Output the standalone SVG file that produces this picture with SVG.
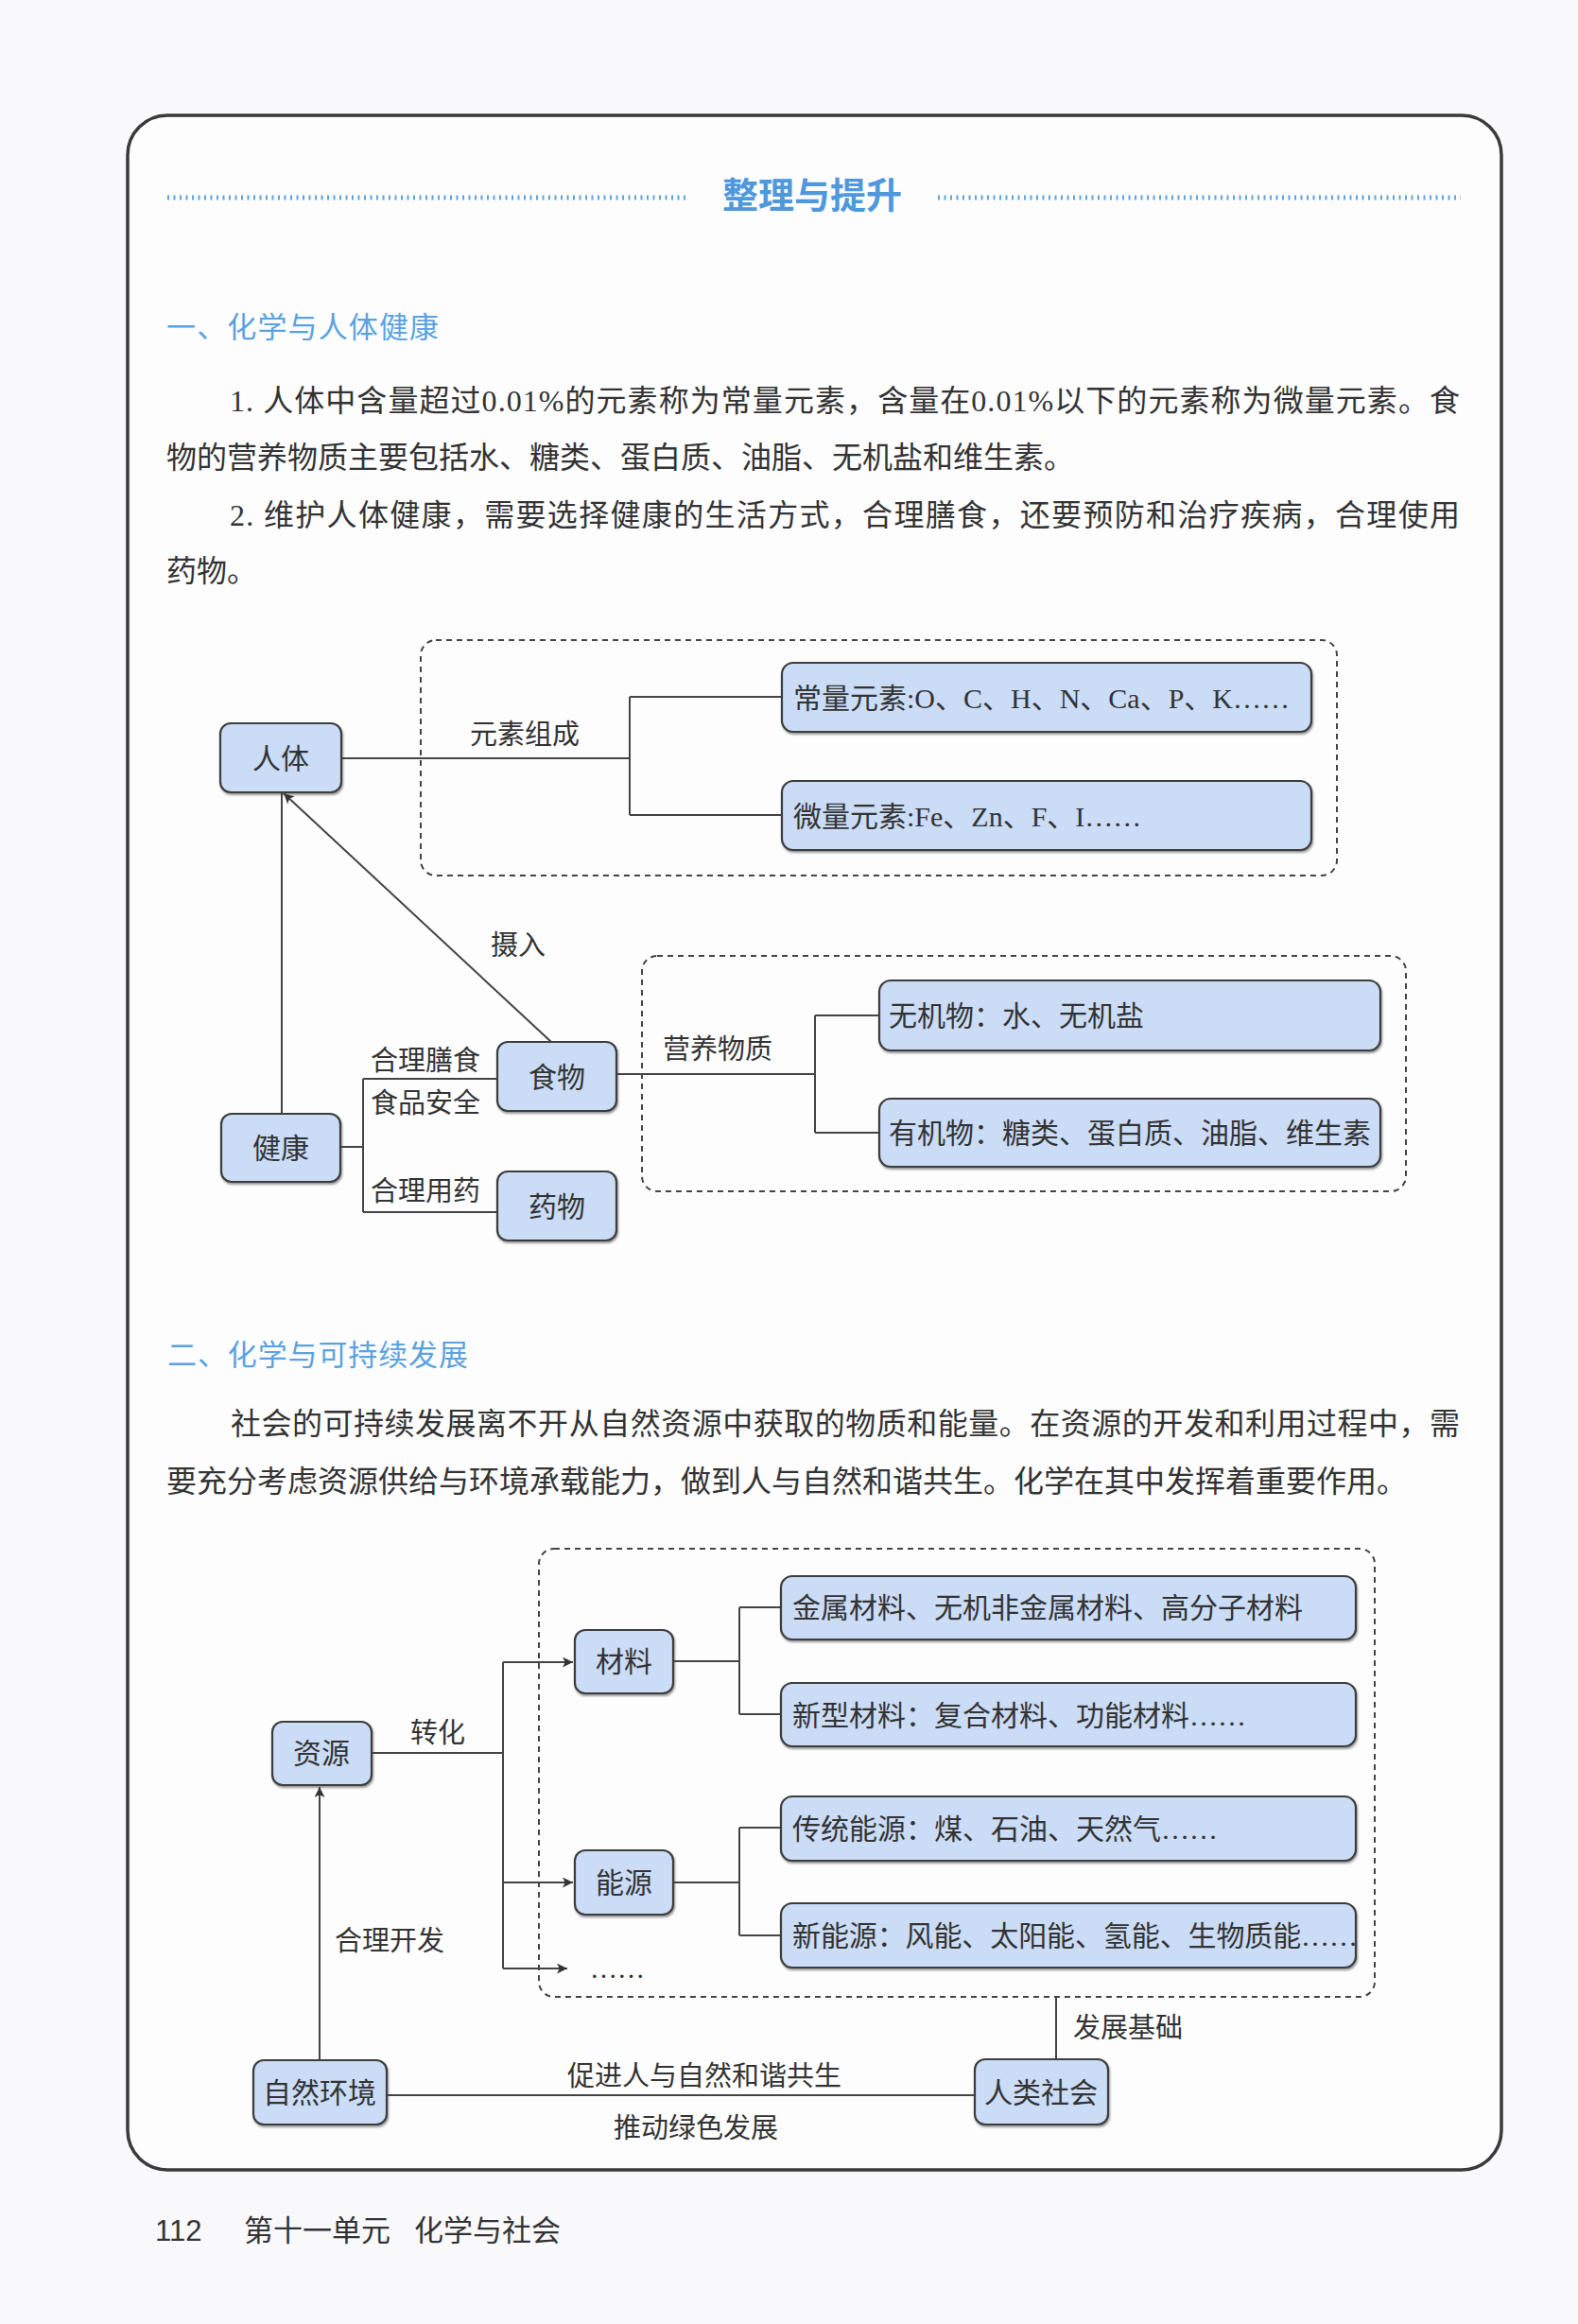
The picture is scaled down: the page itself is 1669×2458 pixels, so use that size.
<svg xmlns="http://www.w3.org/2000/svg" width="1669" height="2458" viewBox="0 0 1669 2458">
<style>
.page{fill:#f9f8fb}
.frame{fill:#fdfdfe;stroke:#3a3a3a;stroke-width:3.5}
.title{font-family:"Noto Sans CJK SC","Noto Sans",sans-serif;font-size:38px;font-weight:700;fill:#4f98dc}
.dots{stroke:#5fa3e0;stroke-width:5;stroke-dasharray:2 4.5;fill:none}
.head{font-family:"Noto Sans CJK SC","Noto Sans",sans-serif;font-size:31px;fill:#5aa2e2}
.para{font-family:"Liberation Serif","Noto Sans CJK SC",serif;font-size:32px;fill:#333}
.lbl{font-family:"Liberation Serif","Noto Sans CJK SC",serif;font-size:29px;fill:#333}
.node rect{fill:#cadcf6;stroke:#3d3d3d;stroke-width:2.2;filter:url(#sh)}
.node text{font-family:"Liberation Serif","Noto Sans CJK SC",serif;font-size:30px;fill:#333}
.dash{fill:none;stroke:#444;stroke-width:2;stroke-dasharray:6 5}
.conn path{fill:none;stroke:#444;stroke-width:2}
.foot{font-family:"Liberation Sans","Noto Sans CJK SC",sans-serif;font-size:31px;fill:#333}
</style>
<defs>
<filter id="sh" x="-5%" y="-10%" width="110%" height="125%">
<feDropShadow dx="1" dy="2" stdDeviation="0.8" flood-color="#444" flood-opacity="0.55"/>
</filter>
<marker id="arr" viewBox="0 0 10 10" refX="10" refY="5" markerWidth="14" markerHeight="11" markerUnits="userSpaceOnUse" orient="auto">
<path d="M0,0 L10,5 L0,10 L2.5,5 Z" fill="#333"/>
</marker>
</defs>

<rect class="page" x="0" y="0" width="1669" height="2458"/>
<rect class="frame" x="135" y="122" width="1453" height="2173" rx="42"/>

<!-- title -->
<line class="dots" x1="177" y1="209" x2="726" y2="209"/>
<line class="dots" x1="992" y1="209" x2="1545" y2="209"/>
<text class="title" x="859" y="220" text-anchor="middle">整理与提升</text>

<!-- section 1 -->
<text class="head" x="176" y="357" textLength="288" lengthAdjust="spacing">一、化学与人体健康</text>
<text class="para" x="243" y="435" textLength="1301" lengthAdjust="spacing">1. 人体中含量超过0.01%的元素称为常量元素，含量在0.01%以下的元素称为微量元素。食</text>
<text class="para" x="176" y="495">物的营养物质主要包括水、糖类、蛋白质、油脂、无机盐和维生素。</text>
<text class="para" x="243" y="556" textLength="1301" lengthAdjust="spacing">2. 维护人体健康，需要选择健康的生活方式，合理膳食，还要预防和治疗疾病，合理使用</text>
<text class="para" x="176" y="615">药物。</text>

<rect class="dash" x="445" y="677" width="969" height="249" rx="16"/>
<rect class="dash" x="679" y="1011" width="808" height="249" rx="16"/>

<g class="conn" id="connectors">
<path d="M361 802 H666 M666 737 V862 M666 737 H827 M666 862 H827"/>
<path d="M298 1178 V838"/>
<path d="M583 1102 L300 839" marker-end="url(#arr)"/>
<path d="M360 1213 H384 M384 1141 V1282 M384 1141 H526 M384 1282 H526"/>
<path d="M652 1136 H862 M862 1074 V1198 M862 1074 H930 M862 1198 H930"/>
<path d="M393 1854 H532 M532 1758 V2082"/>
<path d="M532 1758 H606" marker-end="url(#arr)"/>
<path d="M532 1991 H606" marker-end="url(#arr)"/>
<path d="M532 2082 H600" marker-end="url(#arr)"/>
<path d="M712 1757 H782 M782 1700 V1813 M782 1700 H826 M782 1813 H826"/>
<path d="M712 1991 H782 M782 1933 V2047 M782 1933 H826 M782 2047 H826"/>
<path d="M338 2179 V1890" marker-end="url(#arr)"/>
<path d="M409 2216 H1031"/>
<path d="M1117 2178 V2113"/>
</g>

<text class="lbl" x="555" y="787" text-anchor="middle">元素组成</text>
<text class="lbl" x="548" y="1010" text-anchor="middle">摄入</text>
<text class="lbl" x="450" y="1132" text-anchor="middle">合理膳食</text>
<text class="lbl" x="450" y="1177" text-anchor="middle">食品安全</text>
<text class="lbl" x="450" y="1270" text-anchor="middle">合理用药</text>
<text class="lbl" x="759" y="1120" text-anchor="middle">营养物质</text>

<g class="node" id="n-renti"><rect x="233" y="765" width="128" height="73" rx="11"/><text x="297" y="813" text-anchor="middle">人体</text></g>
<g class="node" id="n-jiankang"><rect x="234" y="1178" width="126" height="72" rx="11"/><text x="297" y="1225" text-anchor="middle">健康</text></g>
<g class="node" id="n-shiwu"><rect x="526" y="1102" width="126" height="73" rx="11"/><text x="589" y="1150" text-anchor="middle">食物</text></g>
<g class="node" id="n-yaowu"><rect x="526" y="1239" width="126" height="73" rx="11"/><text x="589" y="1287" text-anchor="middle">药物</text></g>
<g class="node" id="n-changliang"><rect x="827" y="701" width="560" height="73" rx="12"/><text x="839" y="749">常量元素:O、C、H、N、Ca、P、K……</text></g>
<g class="node" id="n-weiliang"><rect x="827" y="826" width="560" height="73" rx="12"/><text x="839" y="874">微量元素:Fe、Zn、F、I……</text></g>
<g class="node" id="n-wuji"><rect x="930" y="1037" width="530" height="74" rx="12"/><text x="940" y="1085">无机物：水、无机盐</text></g>
<g class="node" id="n-youji"><rect x="930" y="1162" width="530" height="72" rx="12"/><text x="940" y="1209">有机物：糖类、蛋白质、油脂、维生素</text></g>

<!-- section 2 -->
<text class="head" x="177" y="1444" textLength="318" lengthAdjust="spacing">二、化学与可持续发展</text>
<text class="para" x="244" y="1517" textLength="1300" lengthAdjust="spacing">社会的可持续发展离不开从自然资源中获取的物质和能量。在资源的开发和利用过程中，需</text>
<text class="para" x="176" y="1578">要充分考虑资源供给与环境承载能力，做到人与自然和谐共生。化学在其中发挥着重要作用。</text>

<rect class="dash" x="570" y="1638" width="884" height="474" rx="16"/>

<text class="lbl" x="463" y="1843" text-anchor="middle">转化</text>
<text class="lbl" x="412" y="2063" text-anchor="middle">合理开发</text>
<text class="lbl" x="624" y="2092">……</text>
<text class="lbl" x="1193" y="2155" text-anchor="middle">发展基础</text>
<text class="lbl" x="745" y="2206" text-anchor="middle">促进人与自然和谐共生</text>
<text class="lbl" x="736" y="2261" text-anchor="middle">推动绿色发展</text>

<g class="node" id="n-ziyuan"><rect x="288" y="1821" width="105" height="67" rx="11"/><text x="340" y="1865" text-anchor="middle">资源</text></g>
<g class="node" id="n-cailiao"><rect x="608" y="1724" width="104" height="67" rx="11"/><text x="660" y="1768" text-anchor="middle">材料</text></g>
<g class="node" id="n-nengyuan"><rect x="608" y="1957" width="104" height="68" rx="11"/><text x="660" y="2002" text-anchor="middle">能源</text></g>
<g class="node" id="n-ziran"><rect x="268" y="2179" width="141" height="68" rx="11"/><text x="338" y="2224" text-anchor="middle">自然环境</text></g>
<g class="node" id="n-renlei"><rect x="1031" y="2178" width="141" height="69" rx="11"/><text x="1101" y="2224" text-anchor="middle">人类社会</text></g>
<g class="node" id="n-jinshu"><rect x="826" y="1667" width="608" height="67" rx="12"/><text x="838" y="1711">金属材料、无机非金属材料、高分子材料</text></g>
<g class="node" id="n-xinxing"><rect x="826" y="1780" width="608" height="67" rx="12"/><text x="838" y="1825">新型材料：复合材料、功能材料……</text></g>
<g class="node" id="n-chuantong"><rect x="826" y="1900" width="608" height="68" rx="12"/><text x="838" y="1945">传统能源：煤、石油、天然气……</text></g>
<g class="node" id="n-xinneng"><rect x="826" y="2013" width="608" height="68" rx="12"/><text x="838" y="2058" textLength="598" lengthAdjust="spacing">新能源：风能、太阳能、氢能、生物质能……</text></g>

<!-- footer -->
<text class="foot" x="164" y="2370">112</text>
<text class="foot" x="258" y="2370">第十一单元</text>
<text class="foot" x="438" y="2370">化学与社会</text>
</svg>
